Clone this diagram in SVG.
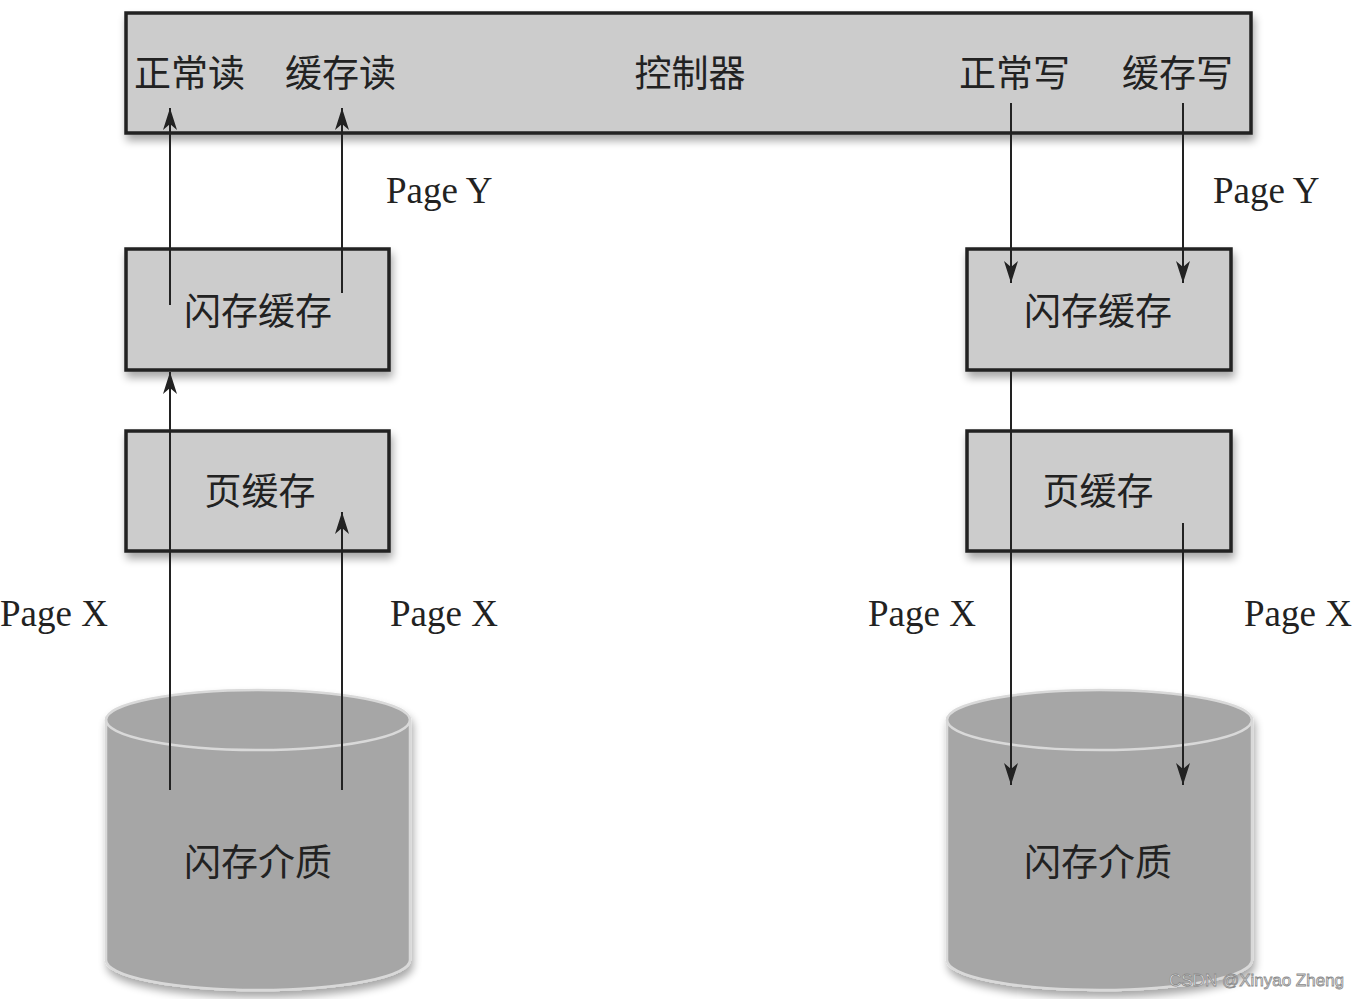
<svg xmlns="http://www.w3.org/2000/svg" width="1356" height="999" viewBox="0 0 1356 999">
<style>
.box{fill:#cccccc;stroke:#222;stroke-width:3.5}
.cyl{fill:#a6a6a6;stroke:#d9d9d9;stroke-width:2.5}
.cjk{font-family:"Noto Sans CJK SC","Noto Sans CJK JP",sans-serif;font-size:37px;fill:#222}
.lat{font-family:"Liberation Serif",serif;font-size:37px;fill:#222}
.conn{stroke:#222;stroke-width:2;fill:none}
.wm{font-family:"Liberation Sans",sans-serif;font-size:17px;fill:#f4f4f4;stroke:#8a8a8a;stroke-width:0.8}
</style>
<defs>
<filter id="sh" x="-10%" y="-10%" width="125%" height="140%">
<feGaussianBlur in="SourceAlpha" stdDeviation="4"/>
<feOffset dx="2" dy="6" result="b"/>
<feComponentTransfer><feFuncA type="linear" slope="0.35"/></feComponentTransfer>
<feMerge><feMergeNode/><feMergeNode in="SourceGraphic"/></feMerge>
</filter>
<marker id="ah" markerUnits="userSpaceOnUse" markerWidth="26" markerHeight="18" viewBox="-23 -9 26 18" refX="0" refY="0" orient="auto">
<path d="M0,0 L-22,-7 L-16,0 L-22,7 Z" fill="#222"/>
</marker>
</defs>
<rect width="1356" height="999" fill="#fff"/>

<g id="controller">
<rect class="box" x="126" y="13" width="1125" height="120" filter="url(#sh)"/>
<text class="cjk" x="134" y="87">正常读</text>
<text class="cjk" x="285" y="87">缓存读</text>
<text class="cjk" x="690" y="87" text-anchor="middle">控制器</text>
<text class="cjk" x="959" y="87">正常写</text>
<text class="cjk" x="1122" y="87">缓存写</text>
</g>

<g id="left-flash-cache">
<rect class="box" x="126" y="249" width="263" height="121" filter="url(#sh)"/>
<text class="cjk" x="258" y="325" text-anchor="middle">闪存缓存</text>
</g>
<g id="left-page-cache">
<rect class="box" x="126" y="431" width="263" height="120" filter="url(#sh)"/>
<text class="cjk" x="260" y="505" text-anchor="middle">页缓存</text>
</g>
<g id="right-flash-cache">
<rect class="box" x="967" y="249" width="264" height="121" filter="url(#sh)"/>
<text class="cjk" x="1098" y="325" text-anchor="middle">闪存缓存</text>
</g>
<g id="right-page-cache">
<rect class="box" x="967" y="431" width="264" height="120" filter="url(#sh)"/>
<text class="cjk" x="1098" y="505" text-anchor="middle">页缓存</text>
</g>

<g id="left-media">
<g filter="url(#sh)">
<path class="cyl" d="M106,720 A152,30 0 0 1 410,720 L410,960 A152,30 0 0 1 106,960 Z"/>
</g>
<path class="cyl" d="M106,720 A152,30 0 0 0 410,720" style="fill:none"/>
<text class="cjk" x="258" y="876" text-anchor="middle">闪存介质</text>
</g>
<g id="right-media">
<g filter="url(#sh)">
<path class="cyl" d="M947,720 A152.5,30 0 0 1 1252,720 L1252,960 A152.5,30 0 0 1 947,960 Z"/>
</g>
<path class="cyl" d="M947,720 A152.5,30 0 0 0 1252,720" style="fill:none"/>
<text class="cjk" x="1098" y="876" text-anchor="middle">闪存介质</text>
</g>

<g id="connectors">
<line class="conn" x1="170" y1="305" x2="170" y2="108" marker-end="url(#ah)"/>
<line class="conn" x1="170" y1="790" x2="170" y2="372" marker-end="url(#ah)"/>
<line class="conn" x1="342" y1="293" x2="342" y2="108" marker-end="url(#ah)"/>
<line class="conn" x1="342" y1="790" x2="342" y2="512" marker-end="url(#ah)"/>
<line class="conn" x1="1011" y1="103" x2="1011" y2="283" marker-end="url(#ah)"/>
<line class="conn" x1="1011" y1="370" x2="1011" y2="785" marker-end="url(#ah)"/>
<line class="conn" x1="1183" y1="103" x2="1183" y2="283" marker-end="url(#ah)"/>
<line class="conn" x1="1183" y1="523" x2="1183" y2="785" marker-end="url(#ah)"/>
</g>

<g id="labels">
<text class="lat" x="386" y="203">Page Y</text>
<text class="lat" x="1213" y="203">Page Y</text>
<text class="lat" x="0" y="626">Page X</text>
<text class="lat" x="390" y="626">Page X</text>
<text class="lat" x="868" y="626">Page X</text>
<text class="lat" x="1244" y="626">Page X</text>
</g>
<text class="wm" x="1169" y="986">CSDN @Xinyao Zheng</text>
</svg>
